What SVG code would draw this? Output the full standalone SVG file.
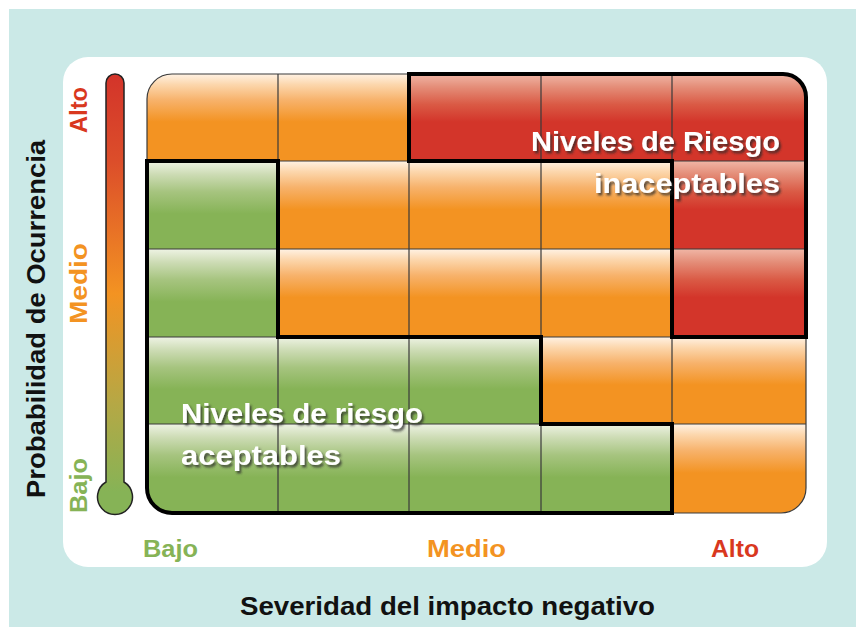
<svg xmlns="http://www.w3.org/2000/svg" width="856" height="627" viewBox="0 0 856 627">
<style>
.lbl{font-family:"Liberation Sans",Arial,sans-serif;font-weight:bold}
.grid{stroke:#3a3a3a;stroke-width:1.2;fill:none}
.thick{stroke:#000;stroke-width:4;fill:none;stroke-linejoin:miter}
.wt{fill:#fff;font-size:28px;filter:url(#sh)}
.o{fill:url(#gO)}.r{fill:url(#gR)}.g{fill:url(#gG)}
</style>
<defs>
<linearGradient id="gO" x1="0" y1="0" x2="0" y2="1">
<stop offset="0" stop-color="#fff2e4"/><stop offset="0.12" stop-color="#fcd7ad"/><stop offset="0.3" stop-color="#f7b26b"/><stop offset="0.55" stop-color="#f39322"/><stop offset="1" stop-color="#f39322"/>
</linearGradient>
<linearGradient id="gR" x1="0" y1="0" x2="0" y2="1">
<stop offset="0" stop-color="#f0b6a6"/><stop offset="0.15" stop-color="#e48d78"/><stop offset="0.35" stop-color="#da5a45"/><stop offset="0.55" stop-color="#d3352a"/><stop offset="1" stop-color="#d3352a"/>
</linearGradient>
<linearGradient id="gG" x1="0" y1="0" x2="0" y2="1">
<stop offset="0" stop-color="#eef3e4"/><stop offset="0.15" stop-color="#cddcb5"/><stop offset="0.35" stop-color="#a6c47f"/><stop offset="0.6" stop-color="#86b356"/><stop offset="1" stop-color="#86b356"/>
</linearGradient>
<linearGradient id="gBar" gradientUnits="userSpaceOnUse" x1="0" y1="74" x2="0" y2="514">
<stop offset="0" stop-color="#d3342a"/><stop offset="0.2" stop-color="#dc4e2a"/><stop offset="0.5" stop-color="#f39322"/><stop offset="0.75" stop-color="#b5a845"/><stop offset="0.95" stop-color="#86b356"/><stop offset="1" stop-color="#86b356"/>
</linearGradient>
<clipPath id="gc"><rect x="147" y="74" width="659" height="439" rx="25" ry="25"/></clipPath>
<filter id="sh" x="-10%" y="-30%" width="120%" height="160%">
<feDropShadow dx="2" dy="2.5" stdDeviation="1.3" flood-color="#2a2a2a" flood-opacity="0.75"/>
</filter>
</defs>

<rect x="0" y="0" width="856" height="627" fill="#ffffff"/>
<rect id="bg" x="9" y="9" width="847" height="618" fill="#cbe9e7"/>
<rect id="panel" x="63" y="57" width="764" height="510" rx="25" ry="25" fill="#ffffff"/>

<g id="matrix">
<g clip-path="url(#gc)">
<rect class="o" x="147" y="74" width="131" height="87"/>
<rect class="o" x="278" y="74" width="131" height="87"/>
<rect class="r" x="409" y="74" width="132" height="87"/>
<rect class="r" x="541" y="74" width="131" height="87"/>
<rect class="r" x="672" y="74" width="134" height="87"/>

<rect class="g" x="147" y="161" width="131" height="88"/>
<rect class="o" x="278" y="161" width="131" height="88"/>
<rect class="o" x="409" y="161" width="132" height="88"/>
<rect class="o" x="541" y="161" width="131" height="88"/>
<rect class="r" x="672" y="161" width="134" height="88"/>

<rect class="g" x="147" y="249" width="131" height="88"/>
<rect class="o" x="278" y="249" width="131" height="88"/>
<rect class="o" x="409" y="249" width="132" height="88"/>
<rect class="o" x="541" y="249" width="131" height="88"/>
<rect class="r" x="672" y="249" width="134" height="88"/>

<rect class="g" x="147" y="337" width="131" height="87"/>
<rect class="g" x="278" y="337" width="131" height="87"/>
<rect class="g" x="409" y="337" width="132" height="87"/>
<rect class="o" x="541" y="337" width="131" height="87"/>
<rect class="o" x="672" y="337" width="134" height="87"/>

<rect class="g" x="147" y="424" width="131" height="89"/>
<rect class="g" x="278" y="424" width="131" height="89"/>
<rect class="g" x="409" y="424" width="132" height="89"/>
<rect class="g" x="541" y="424" width="131" height="89"/>
<rect class="o" x="672" y="424" width="134" height="89"/>

<path class="grid" d="M278,74V513M409,74V513M541,74V513M672,74V513M147,161H806M147,249H806M147,337H806M147,424H806"/>
</g>
<rect class="grid" x="147" y="74" width="659" height="439" rx="25" ry="25"/>
</g>

<g id="regions">
<path id="unacceptable" class="thick" d="M409,74H783A23,23 0 0 1 806,97V337H672V161H409Z"/>
<path id="acceptable" class="thick" d="M147,161H278V337H541V424H672V513H172A25,25 0 0 1 147,488Z"/>
</g>

<g id="region-labels">
<text class="lbl wt" x="531" y="151" textLength="249" lengthAdjust="spacingAndGlyphs">Niveles de Riesgo</text>
<text class="lbl wt" x="594" y="193" textLength="186" lengthAdjust="spacingAndGlyphs">inaceptables</text>
<text class="lbl wt" x="181" y="423" textLength="242" lengthAdjust="spacingAndGlyphs">Niveles de riesgo</text>
<text class="lbl wt" x="181" y="465" textLength="160" lengthAdjust="spacingAndGlyphs">aceptables</text>
</g>

<g id="scale-bar">
<path d="M106,83A9,9 0 0 1 124,83V482A17.5,17.5 0 1 1 106,482Z" fill="url(#gBar)" stroke="#222" stroke-width="1.5"/>
</g>

<g id="y-axis">
<text class="lbl" font-size="24" fill="#d9381e" transform="translate(87,133) rotate(-90)" textLength="46" lengthAdjust="spacingAndGlyphs">Alto</text>
<text class="lbl" font-size="24" fill="#f39322" transform="translate(87,324) rotate(-90)" textLength="81" lengthAdjust="spacingAndGlyphs">Medio</text>
<text class="lbl" font-size="24" fill="#86b356" transform="translate(87,513) rotate(-90)" textLength="55" lengthAdjust="spacingAndGlyphs">Bajo</text>
<text class="lbl" font-size="25" fill="#111" transform="translate(45,498) rotate(-90)" textLength="358" lengthAdjust="spacingAndGlyphs">Probabilidad de Ocurrencia</text>
</g>

<g id="x-axis">
<text class="lbl" font-size="24" fill="#86b356" x="143" y="557" textLength="55" lengthAdjust="spacingAndGlyphs">Bajo</text>
<text class="lbl" font-size="24" fill="#f39322" x="427" y="557" textLength="79" lengthAdjust="spacingAndGlyphs">Medio</text>
<text class="lbl" font-size="24" fill="#d9381e" x="711" y="557" textLength="48" lengthAdjust="spacingAndGlyphs">Alto</text>
<text class="lbl" font-size="25" fill="#111" x="240" y="615" textLength="415" lengthAdjust="spacingAndGlyphs">Severidad del impacto negativo</text>
</g>
</svg>
